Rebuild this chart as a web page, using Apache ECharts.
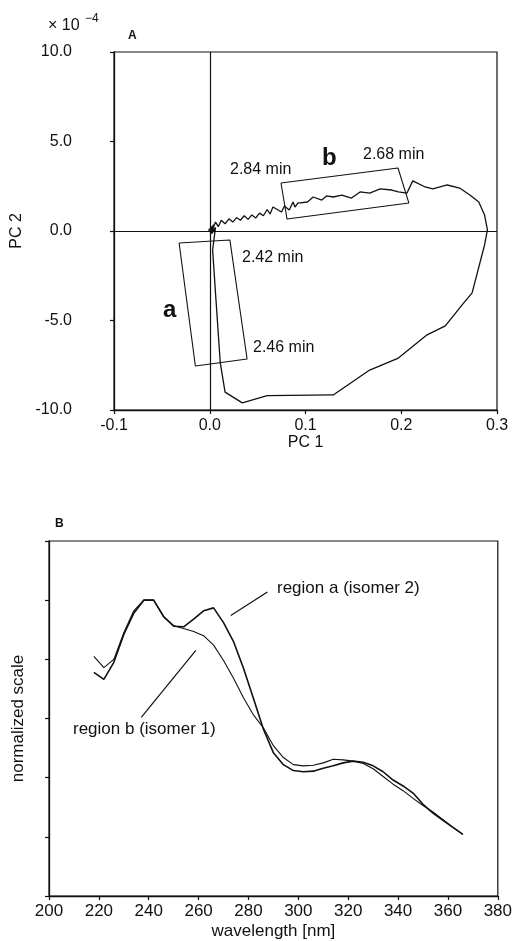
<!DOCTYPE html>
<html>
<head>
<meta charset="utf-8">
<script src="https://cdn.jsdelivr.net/npm/echarts@6/dist/echarts.min.js"></script>
<style>
  html, body { margin: 0; padding: 0; background: #fff; }
  #chart { width: 515px; height: 941px; }
</style>
</head>
<body>
<div id="chart"></div>
<script>
// panel A: PC scores trajectory (PC 2 in units of 1e-4)
const pc1 = [0.0, 0.004, 0.002, 0.006, 0.003, 0.0065, 0.011, 0.016, 0.034, 0.060, 0.129, 0.167, 0.197, 0.227, 0.246, 0.264, 0.274, 0.287, 0.290, 0.287, 0.281, 0.272, 0.261, 0.248, 0.233, 0.225, 0.212, 0.206, 0.197, 0.190, 0.178, 0.167, 0.157, 0.148, 0.138, 0.129, 0.122, 0.117, 0.108, 0.102, 0.092, 0.089, 0.087, 0.083, 0.078, 0.075, 0.066, 0.063, 0.060, 0.056, 0.052, 0.048, 0.044, 0.040, 0.036, 0.032, 0.028, 0.024, 0.020, 0.016, 0.012, 0.009, 0.006, 0.003, 0.0];
const pc2 = [0.0, 0.35, -0.15, 0.2, -1.06, -3.85, -7.37, -9.0, -9.6, -9.2, -9.16, -7.77, -7.1, -5.8, -5.3, -4.1, -3.46, -0.78, 0.06, 0.9, 1.62, 2.0, 2.4, 2.57, 2.35, 2.46, 2.8, 2.12, 2.18, 2.29, 2.35, 2.12, 2.18, 1.84, 2.0, 1.9, 1.96, 1.73, 1.9, 1.62, 1.56, 1.34, 1.62, 1.17, 1.4, 1.06, 1.34, 0.95, 1.2, 0.85, 1.0, 0.72, 0.9, 0.65, 0.85, 0.6, 0.75, 0.5, 0.68, 0.4, 0.6, 0.25, 0.5, 0.1, 0.05];

const boxAx = [-0.032, 0.021, 0.039, -0.015, -0.032];
const boxAy = [-0.67, -0.5, -7.15, -7.54, -0.67];
const boxBx = [0.0744, 0.1966, 0.208, 0.0807, 0.0744];
const boxBy = [2.68, 3.52, 1.56, 0.67, 2.68];

const pcTicksX = [-0.1, 0.0, 0.1, 0.2, 0.3];
const pcTicksY = [-10, -5, 0, 5, 10];

// panel B: spectra
const wavelength = [218, 222, 226, 230, 234, 238, 242, 246, 250, 254, 258, 262, 266, 270, 274, 278, 282, 286, 290, 294, 298, 302, 306, 310, 314, 318, 322, 326, 330, 334, 338, 342, 346, 350, 354, 358, 362, 366];
const regionA = [3.78, 3.66, 3.95, 4.42, 4.78, 5.0, 5.0, 4.72, 4.56, 4.55, 4.68, 4.82, 4.87, 4.62, 4.3, 3.85, 3.34, 2.82, 2.42, 2.22, 2.12, 2.1, 2.11, 2.16, 2.2, 2.25, 2.28, 2.26, 2.2, 2.1, 1.96, 1.86, 1.74, 1.55, 1.4, 1.28, 1.16, 1.04];
const regionB = [4.05, 3.86, 4.0, 4.45, 4.82, 5.0, 5.0, 4.72, 4.57, 4.52, 4.47, 4.4, 4.24, 3.98, 3.68, 3.35, 3.06, 2.84, 2.54, 2.34, 2.22, 2.2, 2.21, 2.25, 2.31, 2.3, 2.28, 2.24, 2.15, 2.02, 1.89, 1.78, 1.65, 1.53, 1.42, 1.29, 1.16, 1.04];

const ptrAx = [272.9, 287.6];
const ptrAy = [4.74, 5.14];
const ptrBx = [237, 258.9];
const ptrBy = [3.02, 4.15];

const zip = (xs, ys) => xs.map((x, i) => [x, ys[i]]);

const FONT = '"Liberation Sans", Arial, sans-serif';
const INK = '#111';

function fmt1(v) {
	const r = Math.round(v * 10) / 10;
	return (r === 0 ? 0 : r).toFixed(1);
}

function lineSeries(x, y, data, width) {
	return {
		type: 'line',
		xAxisIndex: x,
		yAxisIndex: y,
		data: data,
		showSymbol: false,
		symbol: 'none',
		lineStyle: { color: INK, width: width },
		silent: true,
		z: 3
	};
}

function text(x, y, str, size, bold, align) {
	return {
		type: 'text',
		x: x,
		y: y,
		style: {
			text: str,
			fill: INK,
			font: (bold ? 'bold ' : '') + size + 'px ' + FONT,
			textAlign: align || 'left',
			textVerticalAlign: 'middle'
		}
	};
}

const axisCommon = {
	axisLine: { show: true, onZero: false, lineStyle: { color: INK, width: 1.3 } },
	axisTick: { show: true, length: 4, lineStyle: { color: INK, width: 1.2 } },
	splitLine: { show: false },
	nameTextStyle: { color: INK, fontFamily: FONT }
};

var chartDom = document.getElementById('chart');
var myChart = echarts.init(chartDom);

var option = {
	animation: false,
	backgroundColor: '#fff',
	grid: [
		{ left: 114, top: 52, width: 383, height: 358, show: true, borderColor: INK, borderWidth: 1.2 },
		{ left: 49, top: 541, width: 452, height: 356, show: true, borderColor: INK, borderWidth: 1.2 }
	],
	xAxis: [
		Object.assign({}, axisCommon, {
			type: 'value', gridIndex: 0, min: pcTicksX[0], max: pcTicksX[pcTicksX.length - 1], interval: 0.1,
			name: 'PC 1', nameLocation: 'middle', nameGap: 23,
			nameTextStyle: { color: INK, fontFamily: FONT, fontSize: 16 },
			axisLabel: { color: INK, fontFamily: FONT, fontSize: 16, margin: 8, formatter: fmt1 }
		}),
		Object.assign({}, axisCommon, {
			type: 'value', gridIndex: 1, min: 200, max: 380, interval: 20,
			name: 'wavelength [nm]', nameLocation: 'middle', nameGap: 27,
			nameTextStyle: { color: INK, fontFamily: FONT, fontSize: 17 },
			axisLabel: { color: INK, fontFamily: FONT, fontSize: 17, margin: 7 }
		})
	],
	yAxis: [
		Object.assign({}, axisCommon, {
			type: 'value', gridIndex: 0, min: pcTicksY[0], max: pcTicksY[pcTicksY.length - 1], interval: 5,
			name: 'PC 2', nameLocation: 'middle', nameGap: 86,
			nameTextStyle: { color: INK, fontFamily: FONT, fontSize: 16 },
			axisLabel: { color: INK, fontFamily: FONT, fontSize: 16, margin: 42, formatter: fmt1 }
		}),
		Object.assign({}, axisCommon, {
			type: 'value', gridIndex: 1, min: 0, max: 6, interval: 1,
			name: 'normalized scale', nameLocation: 'middle', nameGap: 22,
			nameTextStyle: { color: INK, fontFamily: FONT, fontSize: 17 },
			axisLabel: { show: false }
		})
	],
	series: [
		Object.assign(lineSeries(0, 0, zip(pc1, pc2), 1.3), {
			markLine: {
				silent: true,
				symbol: 'none',
				label: { show: false },
				lineStyle: { color: INK, type: 'solid', width: 1.2 },
				data: [{ xAxis: 0 }, { yAxis: 0 }]
			}
		}),
		lineSeries(0, 0, zip(boxAx, boxAy), 1.1),
		lineSeries(0, 0, zip(boxBx, boxBy), 1.1),
		{
			type: 'scatter', xAxisIndex: 0, yAxisIndex: 0, data: [[0.002, 0.05]],
			symbol: 'diamond', symbolSize: 8, itemStyle: { color: INK }, silent: true, z: 4
		},
		lineSeries(1, 1, zip(wavelength, regionA), 1.6),
		lineSeries(1, 1, zip(wavelength, regionB), 1.1),
		lineSeries(1, 1, zip(ptrAx, ptrAy), 1.2),
		lineSeries(1, 1, zip(ptrBx, ptrBy), 1.2)
	],
	graphic: [
		text(48, 26, '\u00d7 10', 16, false),
		text(85, 19, '\u22124', 12, false),
		text(128, 36, 'A', 12, true),
		text(230, 170, '2.84 min', 16, false),
		text(322, 158, 'b', 24, true),
		text(363, 155, '2.68 min', 16, false),
		text(242, 258, '2.42 min', 16, false),
		text(163, 310, 'a', 24, true),
		text(253, 348, '2.46 min', 16, false),
		text(55, 524, 'B', 12, true),
		text(277, 588, 'region a (isomer 2)', 17, false),
		text(73, 729, 'region b (isomer 1)', 17, false)
	]
};

option && myChart.setOption(option);
</script>
</body>
</html>
